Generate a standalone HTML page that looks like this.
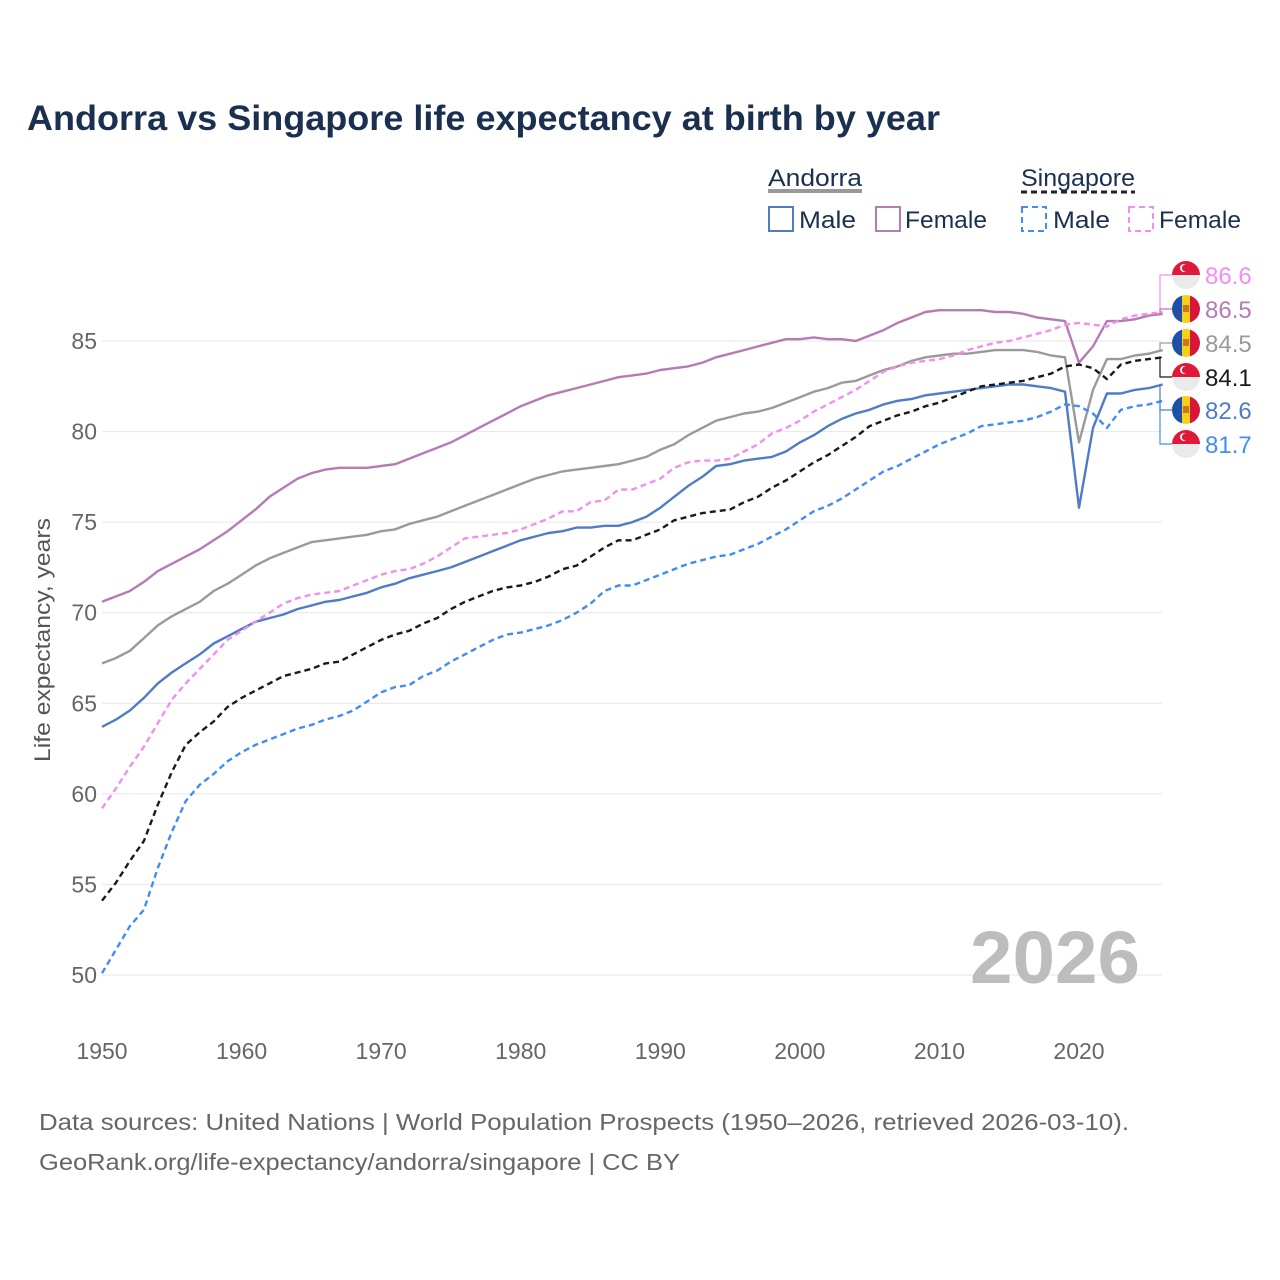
<!DOCTYPE html>
<html><head><meta charset="utf-8"><style>
html,body{margin:0;padding:0;background:#fff;}
svg{display:block;font-family:"Liberation Sans",sans-serif;}
</style></head><body>
<svg id="chart" width="1280" height="1280" viewBox="0 0 1280 1280" xmlns="http://www.w3.org/2000/svg">
<rect width="1280" height="1280" fill="#fff"/>
<text x="27" y="130" font-size="35" font-weight="bold" fill="#1b3050" textLength="913" lengthAdjust="spacingAndGlyphs">Andorra vs Singapore life expectancy at birth by year</text>
<g font-size="24" fill="#1b3050">
  <text x="768" y="186" textLength="94" lengthAdjust="spacingAndGlyphs">Andorra</text>
  <line x1="768" y1="191" x2="862" y2="191" stroke="#999" stroke-width="4"/>
  <text x="1021" y="186" textLength="114" lengthAdjust="spacingAndGlyphs">Singapore</text>
  <line x1="1021" y1="192" x2="1135" y2="192" stroke="#222" stroke-width="3" stroke-dasharray="6,4"/>
  <g><rect x="769" y="207" width="24" height="24" fill="none" stroke="#4f7cc5" stroke-width="2"/><text x="799" y="228" textLength="57" lengthAdjust="spacingAndGlyphs">Male</text></g>
  <g><rect x="876" y="207" width="24" height="24" fill="none" stroke="#b57bb5" stroke-width="2"/><text x="905" y="228" textLength="82" lengthAdjust="spacingAndGlyphs">Female</text></g>
  <g><rect x="1022" y="207" width="24" height="24" fill="none" stroke="#3f8cf5" stroke-width="2" stroke-dasharray="6,4"/><text x="1053" y="228" textLength="57" lengthAdjust="spacingAndGlyphs">Male</text></g>
  <g><rect x="1129" y="207" width="24" height="24" fill="none" stroke="#f28ef0" stroke-width="2" stroke-dasharray="6,4"/><text x="1159" y="228" textLength="82" lengthAdjust="spacingAndGlyphs">Female</text></g>
</g>
<g id="grid"></g>
<g id="axes"></g>
<text transform="translate(50,640) rotate(-90)" text-anchor="middle" font-size="22" fill="#555" textLength="244" lengthAdjust="spacingAndGlyphs">Life expectancy, years</text>
<text x="1140" y="983" text-anchor="end" font-size="74" font-weight="bold" fill="#bdbdbd" textLength="170" lengthAdjust="spacingAndGlyphs">2026</text>
<g id="series"></g>
<g id="labels"></g>
<g font-size="23" fill="#666">
  <text x="39" y="1130" textLength="1090" lengthAdjust="spacingAndGlyphs">Data sources: United Nations | World Population Prospects (1950–2026, retrieved 2026-03-10).</text>
  <text x="39" y="1170" textLength="641" lengthAdjust="spacingAndGlyphs">GeoRank.org/life-expectancy/andorra/singapore | CC BY</text>
</g>
</svg>
<script>
const startYear = 1950;
const xTicks = [1950,1960,1970,1980,1990,2000,2010,2020];
const yTicks = [50,55,60,65,70,75,80,85];
const andorraFemale = [70.6,70.9,71.2,71.7,72.3,72.7,73.1,73.5,74.0,74.5,75.1,75.7,76.4,76.9,77.4,77.7,77.9,78.0,78.0,78.0,78.1,78.2,78.5,78.8,79.1,79.4,79.8,80.2,80.6,81.0,81.4,81.7,82.0,82.2,82.4,82.6,82.8,83.0,83.1,83.2,83.4,83.5,83.6,83.8,84.1,84.3,84.5,84.7,84.9,85.1,85.1,85.2,85.1,85.1,85.0,85.3,85.6,86.0,86.3,86.6,86.7,86.7,86.7,86.7,86.6,86.6,86.5,86.3,86.2,86.1,83.8,84.7,86.1,86.1,86.2,86.4,86.5];
const andorraTotal = [67.2,67.5,67.9,68.6,69.3,69.8,70.2,70.6,71.2,71.6,72.1,72.6,73.0,73.3,73.6,73.9,74.0,74.1,74.2,74.3,74.5,74.6,74.9,75.1,75.3,75.6,75.9,76.2,76.5,76.8,77.1,77.4,77.6,77.8,77.9,78.0,78.1,78.2,78.4,78.6,79.0,79.3,79.8,80.2,80.6,80.8,81.0,81.1,81.3,81.6,81.9,82.2,82.4,82.7,82.8,83.1,83.4,83.6,83.9,84.1,84.2,84.3,84.3,84.4,84.5,84.5,84.5,84.4,84.2,84.1,79.4,82.3,84.0,84.0,84.2,84.3,84.5];
const andorraMale = [63.7,64.1,64.6,65.3,66.1,66.7,67.2,67.7,68.3,68.7,69.1,69.5,69.7,69.9,70.2,70.4,70.6,70.7,70.9,71.1,71.4,71.6,71.9,72.1,72.3,72.5,72.8,73.1,73.4,73.7,74.0,74.2,74.4,74.5,74.7,74.7,74.8,74.8,75.0,75.3,75.8,76.4,77.0,77.5,78.1,78.2,78.4,78.5,78.6,78.9,79.4,79.8,80.3,80.7,81.0,81.2,81.5,81.7,81.8,82.0,82.1,82.2,82.3,82.4,82.5,82.6,82.6,82.5,82.4,82.2,75.8,80.2,82.1,82.1,82.3,82.4,82.6];
const singaporeFemale = [59.2,60.3,61.5,62.6,63.9,65.2,66.1,66.9,67.7,68.5,69.0,69.5,70.0,70.5,70.8,71.0,71.1,71.2,71.5,71.8,72.1,72.3,72.4,72.7,73.1,73.6,74.1,74.2,74.3,74.4,74.6,74.9,75.2,75.6,75.6,76.1,76.2,76.8,76.8,77.1,77.4,78.0,78.3,78.4,78.4,78.5,78.9,79.3,79.9,80.2,80.6,81.1,81.5,81.9,82.3,82.8,83.3,83.6,83.8,83.9,84.0,84.2,84.5,84.7,84.9,85.0,85.2,85.4,85.6,85.9,86.0,85.9,85.8,86.2,86.4,86.5,86.6];
const singaporeTotal = [54.1,55.1,56.3,57.4,59.4,61.2,62.7,63.4,64.0,64.8,65.3,65.7,66.1,66.5,66.7,66.9,67.2,67.3,67.7,68.1,68.5,68.8,69.0,69.4,69.7,70.2,70.6,70.9,71.2,71.4,71.5,71.7,72.0,72.4,72.6,73.1,73.6,74.0,74.0,74.3,74.6,75.1,75.3,75.5,75.6,75.7,76.1,76.4,76.9,77.3,77.8,78.3,78.7,79.2,79.7,80.3,80.6,80.9,81.1,81.4,81.6,81.9,82.2,82.5,82.6,82.7,82.8,83.0,83.2,83.6,83.7,83.5,82.9,83.7,83.9,84.0,84.1];
const singaporeMale = [50.1,51.4,52.7,53.6,55.9,57.9,59.6,60.5,61.1,61.8,62.3,62.7,63.0,63.3,63.6,63.8,64.1,64.3,64.6,65.1,65.6,65.9,66.0,66.5,66.8,67.3,67.7,68.1,68.5,68.8,68.9,69.1,69.3,69.6,70.0,70.5,71.2,71.5,71.5,71.8,72.1,72.4,72.7,72.9,73.1,73.2,73.5,73.8,74.2,74.6,75.1,75.6,75.9,76.3,76.8,77.3,77.8,78.1,78.5,78.9,79.3,79.6,79.9,80.3,80.4,80.5,80.6,80.8,81.1,81.5,81.4,81.0,80.2,81.2,81.4,81.5,81.7];

const NS = "http://www.w3.org/2000/svg";
function xScale(year){ return 102 + (year - 1950) * (1079 - 102) / 70; }
function yScale(v){ return 975 - (v - 50) * (975 - 341) / 35; }
function mk(tag, attrs, parent){ const e = document.createElementNS(NS, tag); for (const k in attrs) e.setAttribute(k, attrs[k]); parent.appendChild(e); return e; }

const grid = document.getElementById('grid');
const axes = document.getElementById('axes');
yTicks.forEach(t => {
  const gl = mk('line', {x1: 102, x2: 1162, y1: yScale(t), y2: yScale(t), stroke: '#e6e6e6', 'stroke-width': 1}, grid);
  
  
  const tl = mk('text', {x: 97, y: yScale(t) + 8, 'text-anchor': 'end', 'font-size': 23, fill: '#666'}, axes);
  
  
  tl.textContent = t;
});
xTicks.forEach(t => {
  const tl = mk('text', {x: xScale(t), y: 1059, 'text-anchor': 'middle', 'font-size': 23, fill: '#666'}, axes);
  
  
  tl.textContent = t;
});

const seriesG = document.getElementById('series');
const seriesDefs = [
  {data: andorraFemale, color: '#b57bb5', dash: null, name: 'andorra-female-line'},
  {data: andorraTotal, color: '#9a9a9a', dash: null, name: 'andorra-total-line'},
  {data: andorraMale, color: '#4f7cc5', dash: null, name: 'andorra-male-line'},
  {data: singaporeFemale, color: '#f28ef0', dash: '6,4', name: 'singapore-female-line'},
  {data: singaporeTotal, color: '#1a1a1a', dash: '6,4', name: 'singapore-total-line'},
  {data: singaporeMale, color: '#3f8cf5', dash: '6,4', name: 'singapore-male-line'}
];
seriesDefs.forEach(s => {
  const d = s.data.map((v, i) => (i ? 'L' : 'M') + xScale(startYear + i).toFixed(1) + ',' + yScale(v).toFixed(1)).join(' ');
  const p = mk('path', {d: d, fill: 'none', stroke: s.color, 'stroke-width': 2.4, 'stroke-linejoin': 'round'}, seriesG);
  if (s.dash) p.setAttribute('stroke-dasharray', s.dash);
  
  
});

const labelsG = document.getElementById('labels');
const endLabels = [
  {data: singaporeFemale, color: '#f28ef0', flag: 'sg', y: 275, name: 'singapore-female-end-label'},
  {data: andorraFemale, color: '#b57bb5', flag: 'ad', y: 309, name: 'andorra-female-end-label'},
  {data: andorraTotal, color: '#9a9a9a', flag: 'ad', y: 343, name: 'andorra-total-end-label'},
  {data: singaporeTotal, color: '#1a1a1a', flag: 'sg', y: 377, name: 'singapore-total-end-label'},
  {data: andorraMale, color: '#4f7cc5', flag: 'ad', y: 410, name: 'andorra-male-end-label'},
  {data: singaporeMale, color: '#3f8cf5', flag: 'sg', y: 444, name: 'singapore-male-end-label'}
];
let clipId = 0;
endLabels.forEach(l => {
  const last = l.data[l.data.length - 1];
  const ly = yScale(last);
  const g = mk('g', {}, labelsG);
  
  
  mk('polyline', {points: `1162,${ly} 1160,${ly} 1160,${l.y} 1172,${l.y}`, fill: 'none', stroke: l.color, 'stroke-width': 1.2}, g);
  const cx = 1186, cy = l.y, r = 14;
  const cid = 'fc' + (clipId++);
  const cp = mk('clipPath', {id: cid}, g);
  mk('circle', {cx: cx, cy: cy, r: r}, cp);
  const fg = mk('g', {'clip-path': `url(#${cid})`}, g);
  if (l.flag === 'sg') {
    mk('rect', {x: cx - r, y: cy - r, width: 2 * r, height: r, fill: '#e0193a'}, fg);
    mk('rect', {x: cx - r, y: cy, width: 2 * r, height: r, fill: '#eaeaea'}, fg);
    mk('circle', {cx: cx - 2, cy: cy - 7, r: 4, fill: '#fff'}, fg);
    mk('circle', {cx: cx - 0.5, cy: cy - 7, r: 3.6, fill: '#e0193a'}, fg);
  } else {
    mk('rect', {x: cx - r, y: cy - r, width: 10, height: 2 * r, fill: '#1e50a8'}, fg);
    mk('rect', {x: cx - 4, y: cy - r, width: 8, height: 2 * r, fill: '#f7d117'}, fg);
    mk('rect', {x: cx + 4, y: cy - r, width: 10, height: 2 * r, fill: '#d6173a'}, fg);
    mk('rect', {x: cx - 3, y: cy - 4, width: 6, height: 7, fill: '#c7762a'}, fg);
  }
  const t = mk('text', {x: 1205, y: l.y + 9, 'font-size': 24, fill: l.color}, g);
  
  
  t.textContent = last.toFixed(1);
});
</script>
</body></html>
